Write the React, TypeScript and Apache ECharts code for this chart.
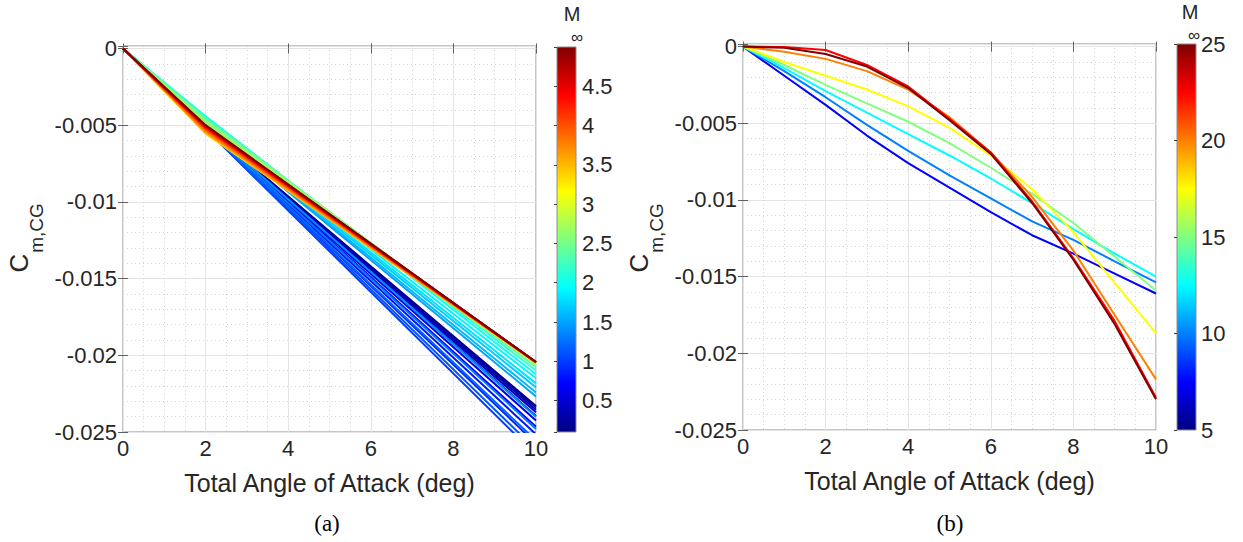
import React, { useEffect, useRef } from "react";
import * as echarts from "echarts";

// ---------- Panel (a): Mach 0.1 – 5 ----------
const alphaA = [0, 2, 10];
const machA = [
  0.1, 0.2, 0.3, 0.4, 0.5, 0.6, 0.7, 0.8, 0.9, 1.0,
  1.1, 1.2, 1.3, 1.4, 1.5, 1.6, 1.7, 1.8, 1.9, 2.0,
  2.2, 2.4, 2.6, 2.8, 3.0, 3.2, 3.4, 3.6, 3.8, 4.0,
  4.2, 4.4, 4.6, 4.8, 5.0,
];
const cmAtAlpha0 = [
  0, 0, 0, 0, 0, 0, 0, 0, 0, 0,
  0, 0, 0, 0, 0, 0, 0, 0, 0, 0,
  0, 0, 0, 0, 0, 0, 0, 0, 0, 0,
  0, 0, 0, 0, 0,
];
const cmAtAlpha2 = [
  -0.0051, -0.0051, -0.00511, -0.00512, -0.00513, -0.00514, -0.00516, -0.00518, -0.00521, -0.00525,
  -0.00524, -0.00522, -0.00518, -0.00512, -0.0049, -0.00485, -0.0048, -0.00475, -0.00468, -0.00442,
  -0.0045, -0.0046, -0.00472, -0.0049, -0.00515, -0.0055, -0.00555, -0.00548, -0.00538, -0.00528,
  -0.0052, -0.00513, -0.00507, -0.00503, -0.005,
];
const cmAtAlpha10 = [
  -0.0233, -0.0234, -0.02355, -0.02372, -0.02395, -0.02425, -0.02465, -0.02515, -0.02575, -0.0265,
  -0.02615, -0.02555, -0.0248, -0.024, -0.02268, -0.02242, -0.02209, -0.02183, -0.0215, -0.02124,
  -0.02098, -0.02076, -0.02062, -0.02055, -0.02051, -0.02049, -0.02048, -0.02047, -0.02046, -0.02046,
  -0.02045, -0.02045, -0.02044, -0.02044, -0.02044,
];

// ---------- Panel (b): Mach 5 – 25 ----------
const alphaB = [0, 1, 2, 3, 4, 5, 6, 7, 8, 9, 10];
const machB = [7.5, 10, 12.5, 15, 17.5, 20, 22.5, 25];
const cmM7p5 = [0, -0.0019, -0.0038, -0.0058, -0.0076, -0.0092, -0.0108, -0.0123, -0.0135, -0.0148, -0.0161];
const cmM10 = [0, -0.0016, -0.0033, -0.0051, -0.0068, -0.0084, -0.0099, -0.0114, -0.0126, -0.014, -0.01537];
const cmM12p5 = [0, -0.0014, -0.0029, -0.0043, -0.0057, -0.0071, -0.0086, -0.0102, -0.0119, -0.0135, -0.015];
const cmM15 = [0, -0.0012, -0.0025, -0.0037, -0.0049, -0.0063, -0.0079, -0.0096, -0.0115, -0.0137, -0.0159];
const cmM17p5 = [0, -0.001, -0.0019, -0.0028, -0.0039, -0.0053, -0.0071, -0.0093, -0.0121, -0.0154, -0.0187];
const cmM20 = [0, -0.00033, -0.0008, -0.0016, -0.0028, -0.0046, -0.0069, -0.0098, -0.0133, -0.0175, -0.0217];
const cmM22p5 = [0, -0.00002, -0.00022, -0.0012, -0.0026, -0.0047, -0.0069, -0.0101, -0.0138, -0.0179, -0.0229];
const cmM25 = [0, -0.00008, -0.00048, -0.0013, -0.0027, -0.0048, -0.007, -0.0102, -0.0139, -0.0181, -0.023];
const cmB = [cmM7p5, cmM10, cmM12p5, cmM15, cmM17p5, cmM20, cmM22p5, cmM25];

// ---------- Tick labels ----------
const xTicks = [0, 2, 4, 6, 8, 10];
const cbTicksA = [0.5, 1, 1.5, 2, 2.5, 3, 3.5, 4, 4.5];
const cbTicksB = [5, 10, 15, 20, 25];

const FONT = "'Liberation Sans', Arial, Helvetica, sans-serif";
const SERIF = "'Liberation Serif', 'Times New Roman', serif";
const TXT = "#262626";
const GRID_MAJOR = "#e4e4e4";
const GRID_MINOR = "#d4d4d4";
const BOX = "#8c8c8c";
const TICK_FS = 22;

function jet(t: number): string {
  const c = (v: number) => Math.max(0, Math.min(1, v));
  const r = c(1.5 - Math.abs(4 * t - 3));
  const g = c(1.5 - Math.abs(4 * t - 2));
  const b = c(1.5 - Math.abs(4 * t - 1));
  const h = (v: number) => Math.round(v * 255).toString(16).padStart(2, "0");
  return "#" + h(r) + h(g) + h(b);
}

const jetGradient = {
  type: "linear",
  x: 0,
  y: 0,
  x2: 0,
  y2: 1,
  colorStops: [
    { offset: 0, color: "#800000" },
    { offset: 0.125, color: "#ff0000" },
    { offset: 0.375, color: "#ffff00" },
    { offset: 0.625, color: "#00ffff" },
    { offset: 0.875, color: "#0000ff" },
    { offset: 1, color: "#000080" },
  ],
};

function yLabel(v: number): string {
  const k = v / 0.005;
  if (Math.abs(k - Math.round(k)) > 1e-6) return "";
  if (Math.abs(v) < 1e-12) return "0";
  return String(+v.toFixed(3));
}

function xAxesFor(gridIndex: number) {
  return [
    {
      type: "value",
      gridIndex,
      position: "bottom",
      min: xTicks[0],
      max: xTicks[xTicks.length - 1],
      interval: 2,
      axisLine: { show: false },
      axisTick: { show: true, inside: true, length: 5, lineStyle: { color: "#606060" } },
      minorTick: { show: false, splitNumber: 4 },
      axisLabel: { color: TXT, fontSize: TICK_FS, fontFamily: FONT, margin: 5 },
      splitLine: { show: true, lineStyle: { color: GRID_MAJOR, width: 1 } },
      minorSplitLine: { show: true, lineStyle: { color: GRID_MINOR, width: 1, type: [1, 3] } },
      name: "Total Angle of Attack (deg)",
      nameLocation: "middle",
      nameGap: 38,
      nameTextStyle: { fontSize: 25, color: TXT, fontFamily: FONT },
    },
    {
      type: "value",
      gridIndex,
      position: "top",
      min: 0,
      max: 10,
      interval: 2,
      axisLine: { show: false },
      axisTick: { show: true, inside: true, length: 5, lineStyle: { color: "#606060" } },
      axisLabel: { show: false },
      splitLine: { show: false },
    },
  ];
}

function yAxesFor(gridIndex: number, top: number) {
  return [
    {
      type: "value",
      gridIndex,
      position: "left",
      min: -0.025,
      max: top,
      interval: 0.005,
      axisLine: { show: false },
      axisTick: { show: true, inside: true, length: 5, lineStyle: { color: "#606060" } },
      minorTick: { show: false, splitNumber: 5 },
      axisLabel: { color: TXT, fontSize: TICK_FS, fontFamily: FONT, margin: 6, formatter: yLabel },
      splitLine: { show: true, lineStyle: { color: GRID_MAJOR, width: 1 } },
      minorSplitLine: { show: true, lineStyle: { color: GRID_MINOR, width: 1, type: [1, 3] } },
    },
    {
      type: "value",
      gridIndex,
      position: "right",
      min: -0.025,
      max: top,
      interval: 0.005,
      axisLine: { show: false },
      axisTick: { show: true, inside: true, length: 5, lineStyle: { color: "#606060" } },
      axisLabel: { show: false },
      splitLine: { show: false },
    },
  ];
}

export default function App() {
  const ref = useRef<HTMLDivElement>(null);

  useEffect(() => {
    if (!ref.current) return;
    const chart = echarts.init(ref.current, undefined, { renderer: "svg" });

    const seriesA = machA.map((m, i) => ({
      type: "line",
      xAxisIndex: 0,
      yAxisIndex: 0,
      data: alphaA.map((a, j) => [a, [cmAtAlpha0[i], cmAtAlpha2[i], cmAtAlpha10[i]][j]]),
      showSymbol: false,
      symbol: "none",
      silent: true,
      clip: true,
      lineStyle: { color: jet((m - 0.1) / 4.9), width: 2 },
      z: 2 + i * 0.01,
    }));

    const seriesB = machB.map((m, i) => ({
      type: "line",
      xAxisIndex: 2,
      yAxisIndex: 2,
      data: alphaB.map((a, j) => [a, cmB[i][j]]),
      showSymbol: false,
      symbol: "none",
      silent: true,
      clip: true,
      lineStyle: { color: jet((m - 5) / 20), width: 2 },
      z: 2 + i * 0.01,
    }));

    const cbAxisCommon = {
      type: "value",
      position: "right",
      axisLine: { show: false },
      axisTick: { show: true, inside: true, length: 3, lineStyle: { color: "#404040" } },
      axisLabel: { color: TXT, fontSize: TICK_FS, fontFamily: FONT, margin: 6 },
      splitLine: { show: false },
    };

    const mStyle = { fontSize: 20, fontFamily: FONT, fill: TXT, align: "center", verticalAlign: "middle" };
    const infStyle = { fontSize: 17, fontFamily: FONT, fill: TXT, align: "center", verticalAlign: "middle" };

    const option: any = {
      animation: false,
      backgroundColor: "#ffffff",
      grid: [
        { left: 123, top: 46, width: 413, height: 386, show: true, borderColor: BOX, borderWidth: 1, backgroundColor: "#ffffff" },
        { left: 743, top: 44, width: 413, height: 386, show: true, borderColor: BOX, borderWidth: 1, backgroundColor: "#ffffff" },
        { left: 557, top: 47, width: 19, height: 385, show: true, borderColor: BOX, borderWidth: 1, backgroundColor: jetGradient },
        { left: 1177, top: 44, width: 19, height: 386, show: true, borderColor: BOX, borderWidth: 1, backgroundColor: jetGradient },
      ],
      xAxis: [
        ...xAxesFor(0),
        ...xAxesFor(1),
        { type: "value", gridIndex: 2, show: false, min: 0, max: 1 },
        { type: "value", gridIndex: 3, show: false, min: 0, max: 1 },
      ],
      yAxis: [
        ...yAxesFor(0, 0.00016),
        ...yAxesFor(1, 0.00017),
        {
          ...cbAxisCommon,
          gridIndex: 2,
          min: 0.1,
          max: 5,
          splitNumber: 10,
          axisLabel: {
            ...cbAxisCommon.axisLabel,
            formatter: (v: number) => (cbTicksA.some((t) => Math.abs(t - v) < 1e-9) ? String(v) : ""),
          },
        },
        {
          ...cbAxisCommon,
          gridIndex: 3,
          min: cbTicksB[0],
          max: cbTicksB[cbTicksB.length - 1],
          interval: 5,
          axisLabel: { ...cbAxisCommon.axisLabel, margin: 5 },
        },
      ],
      series: [...seriesA, ...seriesB],
      graphic: [
        // y-axis titles C_{m,CG}
        { type: "text", x: 18.5, y: 263, rotation: Math.PI / 2, style: { text: "C", fontSize: 26, fontFamily: FONT, fill: TXT, align: "center", verticalAlign: "middle" } },
        { type: "text", x: 36, y: 228, rotation: Math.PI / 2, style: { text: "m,CG", fontSize: 19, fontFamily: FONT, fill: TXT, align: "center", verticalAlign: "middle" } },
        { type: "text", x: 638.5, y: 263, rotation: Math.PI / 2, style: { text: "C", fontSize: 26, fontFamily: FONT, fill: TXT, align: "center", verticalAlign: "middle" } },
        { type: "text", x: 656, y: 228, rotation: Math.PI / 2, style: { text: "m,CG", fontSize: 19, fontFamily: FONT, fill: TXT, align: "center", verticalAlign: "middle" } },
        // colorbar titles M_inf
        { type: "text", x: 572, y: 14, style: { text: "M", ...mStyle } },
        { type: "text", x: 577, y: 37, style: { text: "∞", ...infStyle } },
        { type: "text", x: 1190, y: 12, style: { text: "M", ...mStyle } },
        { type: "text", x: 1194, y: 35, style: { text: "∞", ...infStyle } },
        // panel captions
        { type: "text", x: 327, y: 523, style: { text: "(a)", fontSize: 23, fontFamily: SERIF, fill: "#000", align: "center", verticalAlign: "middle" } },
        { type: "text", x: 950, y: 523, style: { text: "(b)", fontSize: 23, fontFamily: SERIF, fill: "#000", align: "center", verticalAlign: "middle" } },
      ],
    };

    chart.setOption(option);
    return () => chart.dispose();
  }, []);

  return (
    <div
      ref={ref}
      style={{ position: "fixed", left: 0, top: 0, width: 1243, height: 542, background: "#fff" }}
    />
  );
}
